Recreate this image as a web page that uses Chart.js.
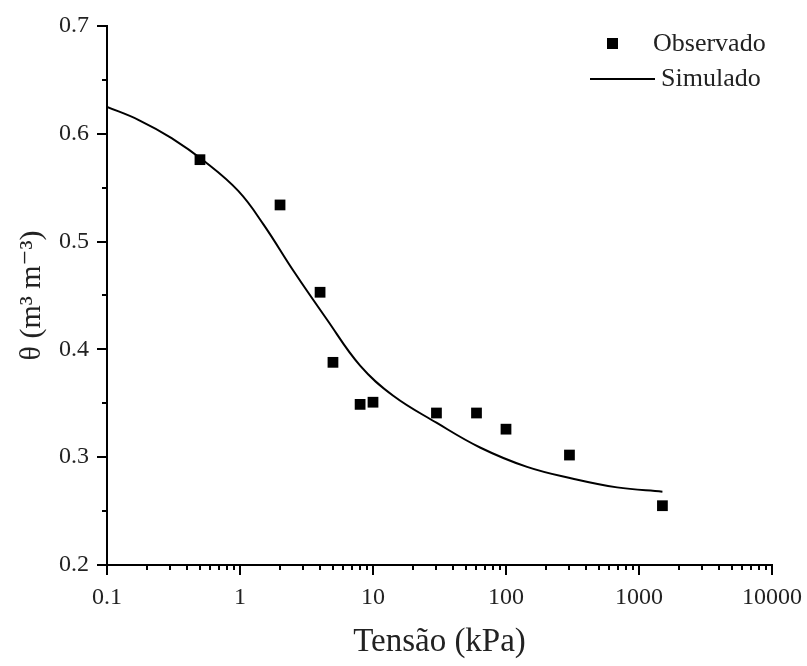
<!DOCTYPE html>
<html>
<head>
<meta charset="utf-8">
<script src="https://cdn.jsdelivr.net/npm/chart.js@4/dist/chart.umd.min.js"></script>
<style>
  html, body { margin: 0; padding: 0; background: #fff; }
  #wrap { width: 807px; height: 666px; }
</style>
</head>
<body>
<div id="wrap"><canvas id="curva"></canvas></div>
<script>
// Observed points (tension kPa, theta m3/m3)
const tensaoObs = [0.5, 2, 4, 5, 8, 10, 30, 60, 100, 300, 1500];
const thetaObs = [0.576, 0.534, 0.453, 0.388, 0.349, 0.351, 0.341, 0.341, 0.326, 0.302, 0.255];

// Simulated curve
const tensaoSim = [0.1, 0.172, 0.306, 0.546, 0.97, 1.5, 2.55, 4.49, 8.0, 14.2, 30, 63.8, 144, 319, 684, 1500];
const thetaSim = [0.625, 0.613, 0.596, 0.574, 0.547, 0.516, 0.472, 0.428, 0.385, 0.357, 0.332, 0.309, 0.291, 0.280, 0.272, 0.268];

const xMajor = [0.1, 1, 10, 100, 1000, 10000];
const yMajor = [0.2, 0.3, 0.4, 0.5, 0.6, 0.7];

const fonte = '"Liberation Serif", "DejaVu Serif", serif';
const corTexto = '#222';

// minor ticks + legend drawn with the chart scales
const extras = {
    id: 'extras',
    afterDraw(chart) {
        const ctx = chart.ctx;
        const xs = chart.scales.x, ys = chart.scales.y;
        ctx.save();
        ctx.strokeStyle = '#000';
        ctx.lineWidth = 2;
        ctx.beginPath();
        for (let d = 0; d < xMajor.length - 1; d++) {
            for (let k = 2; k <= 9; k++) {
                const px = Math.round(xs.getPixelForValue(xMajor[d] * k));
                ctx.moveTo(px, ys.bottom);
                ctx.lineTo(px, ys.bottom + 5);
            }
        }
        for (let i = 0; i < yMajor.length - 1; i++) {
            const py = Math.round(ys.getPixelForValue((yMajor[i] + yMajor[i + 1]) / 2));
            ctx.moveTo(xs.left, py);
            ctx.lineTo(xs.left - 5, py);
        }
        ctx.stroke();

        // legenda
        ctx.font = '26px ' + fonte;
        ctx.textBaseline = 'middle';
        ctx.textAlign = 'left';
        ctx.fillStyle = '#000';
        ctx.fillRect(607, 38, 11, 11);
        ctx.fillStyle = corTexto;
        ctx.fillText(chart.data.datasets[0].label, 653, 44);
        ctx.beginPath();
        ctx.lineWidth = 2;
        ctx.moveTo(590, 79);
        ctx.lineTo(655, 79);
        ctx.stroke();
        ctx.fillText(chart.data.datasets[1].label, 661, 79);
        ctx.restore();
    }
};

new Chart(document.getElementById('curva'), {
    type: 'scatter',
    data: {
        datasets: [{
            label: 'Observado',
            data: tensaoObs.map((t, i) => ({ x: t, y: thetaObs[i] })),
            pointStyle: 'rect',
            pointRadius: 7.6,
            backgroundColor: '#000',
            borderColor: '#000',
            borderWidth: 0,
            showLine: false
        }, {
            label: 'Simulado',
            data: tensaoSim.map((t, i) => ({ x: t, y: thetaSim[i] })),
            showLine: true,
            pointRadius: 0,
            borderColor: '#000',
            borderWidth: 2,
            tension: 0.4
        }]
    },
    options: {
        responsive: true,
        maintainAspectRatio: false,
        animation: false,
        layout: { padding: { top: 26, right: 35, left: 0, bottom: 0 } },
        plugins: {
            legend: { display: false },
            tooltip: { enabled: false }
        },
        scales: {
            x: {
                type: 'logarithmic',
                min: 0.1,
                max: 10000,
                afterFit: (s) => { s.height = 101; s.paddingRight = 0; s.paddingLeft = 0; },
                afterBuildTicks: (s) => { s.ticks = xMajor.map(v => ({ value: v })); },
                border: { display: true, color: '#000', width: 2 },
                grid: { drawOnChartArea: false, drawTicks: true, tickLength: 10, color: '#000', lineWidth: 2 },
                ticks: {
                    autoSkip: false,
                    maxRotation: 0,
                    padding: 8,
                    color: corTexto,
                    font: { family: fonte, size: 24 },
                    callback: (v) => String(v)
                },
                title: {
                    display: true,
                    text: 'Tensão (kPa)',
                    color: corTexto,
                    font: { family: fonte, size: 33 },
                    padding: { top: 4, bottom: 4 }
                }
            },
            y: {
                min: 0.2,
                max: 0.7,
                afterFit: (s) => { s.width = 107; s.paddingTop = 0; s.paddingBottom = 0; },
                afterBuildTicks: (s) => { s.ticks = yMajor.map(v => ({ value: v })); },
                border: { display: true, color: '#000', width: 2 },
                grid: { drawOnChartArea: false, drawTicks: true, tickLength: 10, color: '#000', lineWidth: 2 },
                ticks: {
                    padding: 8,
                    color: corTexto,
                    font: { family: fonte, size: 24 },
                    callback: (v) => v.toFixed(1)
                },
                title: {
                    display: true,
                    text: 'θ (m³ m⁻³)',
                    color: corTexto,
                    font: { family: fonte, size: 30 },
                    padding: { top: 14, bottom: 4 }
                }
            }
        }
    },
    plugins: [extras]
});
</script>
</body>
</html>
